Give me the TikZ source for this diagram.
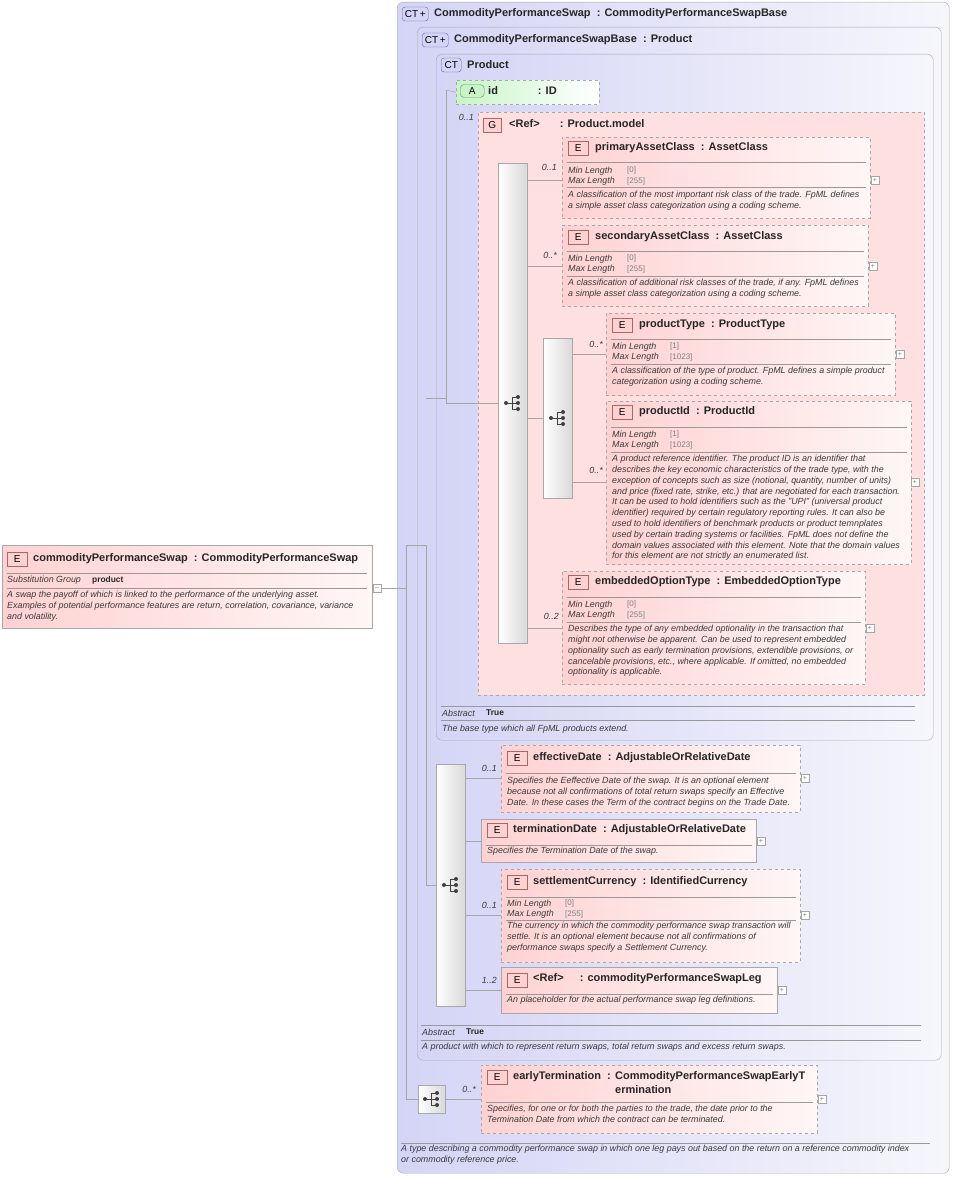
\documentclass[tikz,border=0pt]{standalone}
\usepackage{fontspec}
\setmainfont{Liberation Sans}
\usetikzlibrary{positioning}
\definecolor{ctl}{HTML}{D4D4F6}
\definecolor{ctr}{HTML}{F6F6FC}
\definecolor{pk}{HTML}{FFD2D2}
\definecolor{pkr}{HTML}{FFF6F6}
\definecolor{gp}{HTML}{FFE0E0}
\definecolor{gn}{HTML}{C8F5C8}
\definecolor{bd}{HTML}{A8A8A8}
\definecolor{txt}{HTML}{3A3A3A}
\tikzset{
 ctbox/.style={draw=bd, rounded corners=6pt, left color=ctl, right color=ctr, anchor=north west, inner sep=0},
 ebox/.style={draw=bd, left color=pk, right color=pkr, anchor=north west, inner sep=0},
 edash/.style={ebox, dashed},
 gbox/.style={draw=bd, dashed, fill=gp, anchor=north west, inner sep=0},
 seqbox/.style={draw=bd, left color=white, right color=gray!30, anchor=north west, inner sep=0},
 ttl/.style={anchor=west, inner sep=0, font=\fontsize{11}{13}\selectfont\bfseries, text=black!85},
 dsc/.style={anchor=north west, inner sep=0, align=left, font=\fontsize{8.9}{10.8}\selectfont\itshape, text=txt},
 lbl/.style={anchor=west, inner sep=0, font=\fontsize{8.9}{10}\selectfont\itshape, text=txt},
 val/.style={anchor=west, inner sep=0, font=\fontsize{8}{9}\selectfont, text=gray},
 sm/.style={anchor=west, inner sep=0, font=\fontsize{8.4}{9}\selectfont\bfseries, text=black!85},
 occ/.style={anchor=east, inner sep=0, font=\fontsize{8.9}{10}\selectfont\itshape, text=txt},
 ebadge/.style={draw=red!45!black!60, fill=pk, minimum width=20pt, minimum height=14pt, inner sep=0, font=\fontsize{10}{11}\selectfont, anchor=west},
 ctbadge/.style={draw=blue!40!black!60, fill=ctl, rounded corners=3pt, minimum width=26pt, minimum height=14pt, inner sep=0, font=\fontsize{10}{11}\selectfont, anchor=west},
 sep/.style={draw=gray!80, line width=0.5pt},
 con/.style={draw=gray!70, line width=0.5pt},
 plus/.style={draw=gray!70, fill=white, minimum size=8pt, inner sep=0, font=\fontsize{7}{7}\selectfont, text=gray},
}
\newcommand{\seqicon}[2]{%
 \fill[black!75] (#1-6,#2) circle (2pt);
 \draw[black!75,line width=1pt] (#1-6,#2)--(#1,#2) (#1,#2-6)--(#1,#2+6) (#1,#2-6)--(#1+5,#2-6) (#1,#2)--(#1+5,#2) (#1,#2+6)--(#1+5,#2+6);
 \fill[black!75] (#1+6,#2-6) circle (2pt) (#1+6,#2) circle (2pt) (#1+6,#2+6) circle (2pt);}
\begin{document}
\begin{tikzpicture}[x=1pt,y=-1pt]
\useasboundingbox (0,0) rectangle (953,1177);
% complex type containers
\node[ctbox, minimum width=552pt, minimum height=1171pt] (ct1) at (397,2) {};
\node[ctbadge] (b1) at (402,14) {CT\,+};
\node[ttl] (t1) at (434,14) {CommodityPerformanceSwap\ \ : CommodityPerformanceSwapBase};
\node[ctbox, minimum width=524pt, minimum height=1033pt] (ct2) at (417,27) {};
\node[ctbadge] (b2) at (422,40) {CT\,+};
\node[ttl] (t2) at (454,40) {CommodityPerformanceSwapBase\ \ : Product};
\node[ctbox, minimum width=497pt, minimum height=686pt] (ct3) at (436,54) {};
\node[ctbadge, minimum width=20pt] (b3) at (441,65) {CT};
\node[ttl] (t3) at (467,65) {Product};
% attribute id
\node[draw=bd, dashed, left color=gn, right color=white, minimum width=143pt, minimum height=24pt, anchor=north west, inner sep=0] (idb) at (456,80) {};
\node[draw=green!30!black!60, fill=gn, rounded corners=4pt, minimum width=24pt, minimum height=13pt, inner sep=0, anchor=west, font=\fontsize{10}{11}\selectfont] (ab) at (460,91) {A};
\node[ttl] (idt) at (488,91) {id\hspace{40pt}: ID};
% group
\node[gbox, minimum width=446pt, minimum height=583pt] (grp) at (478,112) {};
\node[occ] (o0) at (474,117) {0..1};
\node[ebadge, minimum width=18pt] (gb) at (483,125) {G};
\node[ttl] (gt) at (509,124) {<Ref>\hspace{20pt}: Product.model};
\node[seqbox, minimum width=29pt, minimum height=480pt] (s1) at (498,163) {};
\seqicon{512}{403}
% primaryAssetClass
\node[edash, minimum width=308pt, minimum height=81pt] (pac) at (562,137) {};
\node[ebadge] (pacb) at (568,148) {E};
\node[ttl] (pact) at (595,148) {primaryAssetClass\ \ : AssetClass};
\draw[sep] (567,162)--(866,162) (567,187)--(866,187);
\node[lbl] (pl1) at (568,171) {Min Length}; \node[val] (pv1) at (627,170) {[0]};
\node[lbl] (pl2) at (568,181) {Max Length}; \node[val] (pv2) at (627,181) {[255]};
\node[dsc] (pd) at (568,191) {A classification of the most important risk class of the trade. FpML defines\\a simple asset class categorization using a coding scheme.};
\node[plus] (pp) at (875,180) {+};
\node[occ] (o1) at (557,167) {0..1};
% secondaryAssetClass
\node[edash, minimum width=306pt, minimum height=81pt] (sac) at (562,225) {};
\node[ebadge] (sacb) at (568,237) {E};
\node[ttl] (sact) at (595,237) {secondaryAssetClass\ \ : AssetClass};
\draw[sep] (567,251)--(864,251) (567,276)--(864,276);
\node[lbl] (sl1) at (568,259) {Min Length}; \node[val] (sv1) at (627,258) {[0]};
\node[lbl] (sl2) at (568,269) {Max Length}; \node[val] (sv2) at (627,269) {[255]};
\node[dsc] (sd) at (568,279) {A classification of additional risk classes of the trade, if any. FpML defines\\a simple asset class categorization using a coding scheme.};
\node[plus] (sp) at (873,266) {+};
\node[occ] (o2) at (557,255) {0..*};
% inner sequence
\node[seqbox, minimum width=29pt, minimum height=160pt] (s2) at (543,338) {};
\seqicon{557}{418}
% productType
\node[edash, minimum width=289pt, minimum height=82pt] (pt) at (606,313) {};
\node[ebadge] (ptb) at (612,325) {E};
\node[ttl] (ptt) at (639,325) {productType\ \ : ProductType};
\draw[sep] (611,339)--(891,339) (611,364)--(891,364);
\node[lbl] (tl1) at (612,347) {Min Length}; \node[val] (tv1) at (670,346) {[1]};
\node[lbl] (tl2) at (612,357) {Max Length}; \node[val] (tv2) at (670,357) {[1023]};
\node[dsc] (td) at (612,367) {A classification of the type of product. FpML defines a simple product\\categorization using a coding scheme.};
\node[plus] (tp) at (900,354) {+};
\node[occ] (o3) at (603,344) {0..*};
% productId
\node[edash, minimum width=305pt, minimum height=163pt] (pid) at (606,401) {};
\node[ebadge] (pidb) at (612,412) {E};
\node[ttl] (pidt) at (639,412) {productId\ \ : ProductId};
\draw[sep] (611,427)--(907,427) (611,452)--(907,452);
\node[lbl] (il1) at (612,435) {Min Length}; \node[val] (iv1) at (670,434) {[1]};
\node[lbl] (il2) at (612,445) {Max Length}; \node[val] (iv2) at (670,445) {[1023]};
\node[dsc] (idd) at (612,455) {A product reference identifier. The product ID is an identifier that\\describes the key economic characteristics of the trade type, with the\\exception of concepts such as size (notional, quantity, number of units)\\and price (fixed rate, strike, etc.) that are negotiated for each transaction.\\It can be used to hold identifiers such as the "UPI" (universal product\\identifier) required by certain regulatory reporting rules. It can also be\\used to hold identifiers of benchmark products or product temnplates\\used by certain trading systems or facilities. FpML does not define the\\domain values associated with this element. Note that the domain values\\for this element are not strictly an enumerated list.};
\node[plus] (ip) at (915,482) {+};
\node[occ] (o4) at (603,470) {0..*};
% embeddedOptionType
\node[edash, minimum width=303pt, minimum height=113pt] (eot) at (562,571) {};
\node[ebadge] (eotb) at (568,582) {E};
\node[ttl] (eott) at (595,582) {embeddedOptionType\ \ : EmbeddedOptionType};
\draw[sep] (567,597)--(861,597) (567,622)--(861,622);
\node[lbl] (el1) at (568,605) {Min Length}; \node[val] (ev1) at (627,604) {[0]};
\node[lbl] (el2) at (568,615) {Max Length}; \node[val] (ev2) at (627,615) {[255]};
\node[dsc] (ed) at (568,625) {Describes the type of any embedded optionality in the transaction that\\might not otherwise be apparent. Can be used to represent embedded\\optionality such as early termination provisions, extendible provisions, or\\cancelable provisions, etc., where applicable. If omitted, no embedded\\optionality is applicable.};
\node[plus] (epl) at (870,628) {+};
\node[occ] (o5) at (559,616) {0..2};
% Product abstract
\draw[sep] (441,706)--(915,706) (441,720)--(915,720);
\node[lbl] (pa) at (442,713) {Abstract}; \node[sm] (pat) at (486,713) {True};
\node[dsc] (pad) at (442,725) {The base type which all FpML products extend.};
% second sequence
\node[seqbox, minimum width=29pt, minimum height=242pt] (s3) at (436,764) {};
\seqicon{450}{885}
% effectiveDate
\node[edash, minimum width=299pt, minimum height=67pt] (efd) at (501,745) {};
\node[ebadge] (efdb) at (507,758) {E};
\node[ttl] (efdt) at (533,758) {effectiveDate\ \ : AdjustableOrRelativeDate};
\draw[sep] (506,773)--(796,773);
\node[dsc] (efdd) at (507,777) {Specifies the Eeffective Date of the swap. It is an optional element\\because not all confirmations of total return swaps specify an Effective\\Date. In these cases the Term of the contract begins on the Trade Date.};
\node[plus] (efp) at (805,778) {+};
\node[occ] (o6) at (497,768) {0..1};
% terminationDate
\node[ebox, minimum width=275pt, minimum height=43pt] (trd) at (481,819) {};
\node[ebadge] (trdb) at (487,830) {E};
\node[ttl] (trdt) at (513,830) {terminationDate\ \ : AdjustableOrRelativeDate};
\draw[sep] (486,845)--(752,845);
\node[dsc] (trdd) at (487,847) {Specifies the Termination Date of the swap.};
\node[plus] (trp) at (761,841) {+};
% settlementCurrency
\node[edash, minimum width=299pt, minimum height=93pt] (stc) at (501,869) {};
\node[ebadge] (stcb) at (507,882) {E};
\node[ttl] (stct) at (533,882) {settlementCurrency\ \ : IdentifiedCurrency};
\draw[sep] (506,897)--(796,897) (506,920)--(796,920);
\node[lbl] (cl1) at (507,904) {Min Length}; \node[val] (cv1) at (565,903) {[0]};
\node[lbl] (cl2) at (507,914) {Max Length}; \node[val] (cv2) at (565,914) {[255]};
\node[dsc] (std) at (507,922) {The currency in which the commodity performance swap transaction will\\settle. It is an optional element because not all confirmations of\\performance swaps specify a Settlement Currency.};
\node[plus] (stp) at (805,915) {+};
\node[occ] (o7) at (497,905) {0..1};
% leg ref
\node[ebox, minimum width=276pt, minimum height=46pt] (leg) at (501,967) {};
\node[ebadge] (legb) at (507,980) {E};
\node[ttl] (legt) at (533,979) {<Ref>\hspace{16pt}: commodityPerformanceSwapLeg};
\draw[sep] (506,994)--(773,994);
\node[dsc] (legd) at (507,996) {An placeholder for the actual performance swap leg definitions.};
\node[plus] (lgp) at (782,990) {+};
\node[occ] (o8) at (497,980) {1..2};
% base abstract
\draw[sep] (421,1025)--(921,1025) (421,1040)--(921,1040);
\node[lbl] (ba) at (422,1032) {Abstract}; \node[sm] (bat) at (466,1032) {True};
\node[dsc] (bad) at (422,1043) {A product with which to represent return swaps, total return swaps and excess return swaps.};
% earlyTermination
\node[seqbox, minimum width=27pt, minimum height=28pt] (s4) at (418,1085) {};
\seqicon{431}{1099}
\node[edash, minimum width=336pt, minimum height=68pt] (etm) at (481,1065) {};
\node[ebadge] (etmb) at (487,1077) {E};
\node[ttl] (etmt) at (513,1077) {earlyTermination\ \ :};
\node[ttl, anchor=west] (etmt2) at ([xshift=4pt]etmt.east) {CommodityPerformanceSwapEarlyT};
\node[ttl, anchor=west] (etmt3) at ([yshift=-13pt]etmt2.west) {ermination};
\draw[sep] (486,1102)--(813,1102);
\node[dsc] (etmd) at (487,1105) {Specifies, for one or for both the parties to the trade, the date prior to the\\Termination Date from which the contract can be terminated.};
\node[plus] (etp) at (822,1099) {+};
\node[occ] (o9) at (476,1089) {0..*};
% outer doc
\draw[sep] (401,1143)--(930,1143);
\node[dsc] (od) at (401,1145) {A type describing a commodity performance swap in which one leg pays out based on the return on a reference commodity index\\or commodity reference price.};
% main element
\node[ebox, minimum width=370pt, minimum height=83pt] (main) at (2,545) {};
\node[ebadge] (mb) at (7,559) {E};
\node[ttl] (mt) at (33,559) {commodityPerformanceSwap\ \ : CommodityPerformanceSwap};
\draw[sep] (7,573)--(367,573) (7,588)--(367,588);
\node[lbl] (ml) at (7,580) {Substitution Group}; \node[sm] (mv) at (92,580) {product};
\node[dsc] (md) at (7,591) {A swap the payoff of which is linked to the performance of the underlying asset.\\Examples of potential performance features are return, correlation, covariance, variance\\and volatility.};
\node[plus] (mp) at (377,588) {--};
% connectors
\coordinate (j1) at (406,588);
\draw[con] (mp.east) -- (j1);
\draw[con] (406,545) -- (406,1099) -- (s4.west |- 0,1099);
\draw[con] (406,545) -- (426,545) -- (426,885) -- (s3.west |- 0,885);
\draw[con] (426,398) -- (446,398);
\draw[con] (446,90) -- (446,403) -- (s1.west |- 0,403);
\draw[con] (446,90) -- (idb.west);
\draw[con] (s1.east |- 0,180) -- (pac.west |- 0,180);
\draw[con] (s1.east |- 0,266) -- (sac.west |- 0,266);
\draw[con] (s1.east |- 0,418) -- (s2.west |- 0,418);
\draw[con] (s1.east |- 0,628) -- (eot.west |- 0,628);
\draw[con] (s2.east |- 0,354) -- (pt.west |- 0,354);
\draw[con] (s2.east |- 0,482) -- (pid.west |- 0,482);
\draw[con] (s3.east |- 0,778) -- (efd.west |- 0,778);
\draw[con] (s3.east |- 0,841) -- (trd.west |- 0,841);
\draw[con] (s3.east |- 0,915) -- (stc.west |- 0,915);
\draw[con] (s3.east |- 0,990) -- (leg.west |- 0,990);
\draw[con] (s4.east |- 0,1099) -- (etm.west |- 0,1099);
\end{tikzpicture}
\end{document}
